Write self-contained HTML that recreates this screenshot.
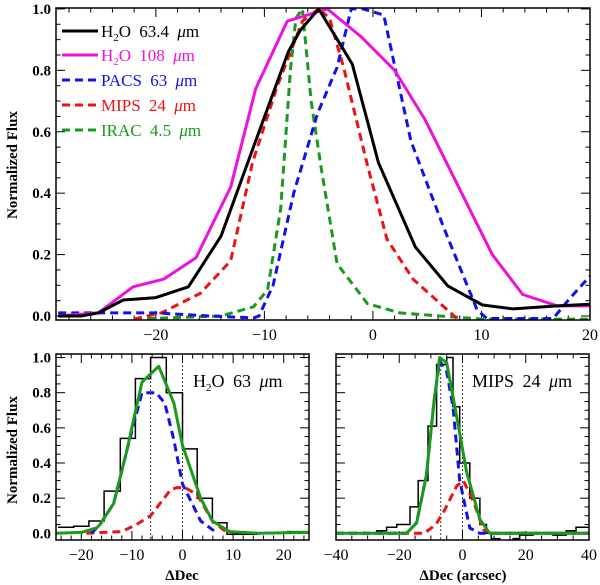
<!DOCTYPE html>
<html><head><meta charset="utf-8"><style>
html,body{margin:0;padding:0;background:#fff;}
svg{display:block;font-family:"Liberation Serif",serif;}
</style></head><body>
<svg id="chart" width="600" height="585" viewBox="0 0 600 585"></svg>
<script>
// ---- Top panel data ----
const h2o63X=[-29,-26.9,-25.3,-23,-20,-17,-14,-10.5,-7.8,-6.7,-5,-1.9,0.5,3.9,6.9,10.1,12.9,17,20];
const h2o63Y=[0,0,0.01,0.052,0.06,0.095,0.26,0.6,0.86,0.93,1.0,0.82,0.5,0.225,0.098,0.036,0.023,0.033,0.038];
const h2o108X=[-29,-25.3,-22.1,-19.3,-16.3,-13.1,-10.8,-7.9,-4.2,-1.1,2.0,4.8,11.0,13.8,17.0,20];
const h2o108Y=[0,0.01,0.095,0.12,0.19,0.42,0.74,0.96,1.0,0.91,0.8,0.64,0.2,0.07,0.033,0.033];
const pacsX=[-29,-20,-15,-11,-10.5,-9.2,-7.3,-5.1,-3.3,-2.0,-0.9,1.0,3.5,6.5,9.6,10.5,16.6,18.2,20];
const pacsY=[0.01,0.01,0.0,-0.006,0,0.1,0.4,0.66,0.81,1.0,1.0,0.98,0.57,0.29,0.02,-0.008,-0.008,0.06,0.13];
const mipsX=[-22,-19.5,-15.9,-13.1,-11.1,-8.8,-6.5,-5,-4,-2.7,-0.5,1.3,3.7,7.8];
const mipsY=[-0.01,0.01,0.074,0.18,0.5,0.75,0.96,1.0,0.97,0.81,0.49,0.25,0.12,-0.01];
const iracX=[-22,-14,-11,-9.7,-8.5,-7.6,-7.1,-6.5,-5.7,-4.8,-3.3,-0.5,2.5,10,20];
const iracY=[-0.01,0.0,0.03,0.085,0.35,0.8,0.97,1.0,0.7,0.49,0.17,0.04,0.01,-0.01,-0.01];
const legendLabels=["H2O 63.4","H2O 108","PACS 63","MIPS 24","IRAC 4.5"];
// ---- Bottom-left (H2O 63) data ----
const blEdges=[-24.6,-21.5,-18.5,-15.5,-12.3,-9.3,-6.3,-3.2,0,2.9,5.9,8.8,11.8,14.8,17.8,20.8,23.8,25];
const blHist=[0.035,0.04,0.07,0.24,0.54,0.88,1.0,0.8,0.48,0.2,0.06,-0.005,-0.005,0.0,0.0,0.01,0.01];
const blFitX=[-25,-20,-17,-16.3,-13.6,-11,-8,-4.7,-1.7,0,3.6,5.9,9.3,15,25];
const blFitY=[0,0.005,0.03,0.05,0.17,0.47,0.86,0.95,0.74,0.5,0.2,0.07,0.01,0,0.005];
const blBlueX=[-18,-16.3,-13.6,-11,-8,-5.2,-3.5,-1.7,0,3.6,6.9];
const blBlueY=[0.0,0.05,0.17,0.47,0.8,0.8,0.74,0.53,0.28,0.07,0.0];
const blRedX=[-19,-12,-9.1,-6.3,-2.3,-1,0.5,2.9,5.9,9];
const blRedY=[0,0.01,0.05,0.1,0.25,0.26,0.26,0.22,0.07,0];
// ---- Bottom-right (MIPS 24) data ----
const brEdges=[-40,-27.1,-24,-20.8,-16.6,-14,-10.9,-8.2,-5,-3,-0.9,2.3,5.5,7.6,9.1,11.8,16,18.1,22.3,28.6,32.8,35.9,40];
const brHist=[0,0.015,0.035,0.05,0.15,0.3,0.61,0.96,1.0,0.72,0.4,0.2,0.05,0,-0.03,-0.045,-0.03,-0.01,0,-0.01,0.015,0.035];
const brFitX=[-40,-17.7,-14.5,-11.4,-9,-7.2,-5,-1.8,1.3,5.5,8.6,40];
const brFitY=[0,0,0.06,0.33,0.75,1.0,0.97,0.66,0.35,0.08,0,0];
const brBlueX=[-40,-17.7,-14.5,-11.4,-9,-7.2,-5,-3,-0.9,2.3,5.5,40];
const brBlueY=[0,0,0.06,0.33,0.75,0.98,0.92,0.72,0.3,0.03,0,0];
const brRedX=[-40,-12.1,-8.4,-6,-1.8,0.3,3.5,6.6,9,40];
const brRedY=[0,0,0.05,0.12,0.27,0.3,0.18,0.02,0,0];

const NS="http://www.w3.org/2000/svg";
const svg=document.getElementById('chart');
function mk(tag,attrs,parent){const e=document.createElementNS(NS,tag);for(const k in attrs)e.setAttribute(k,attrs[k]);(parent||svg).appendChild(e);return e;}
function scale(d0,d1,p0,p1){return v=>p0+(v-d0)*(p1-p0)/(d1-d0);}

function panel(name,box,xd,yd,xMaj,xMin,yMaj,yMin,xfmt,yLabels){
  const g=mk('g',{});
  
  
  const sx=scale(xd[0],xd[1],box.x0,box.x1), sy=scale(yd[0],yd[1],box.y1,box.y0);
  const ticks=mk('g',{stroke:'#000','stroke-width':1},g);
  
  
  const eps=1e-6;
  for(let v=Math.ceil(xd[0]/xMin)*xMin; v<=xd[1]+eps; v+=xMin){
    const maj=Math.abs(v/xMaj-Math.round(v/xMaj))<1e-6, L=maj?9:4.5, x=sx(v);
    mk('line',{x1:x,x2:x,y1:box.y1,y2:box.y1-L},ticks);
    mk('line',{x1:x,x2:x,y1:box.y0,y2:box.y0+L},ticks);
    if(maj){const t=mk('text',{x:x,y:box.y1+20,'text-anchor':'middle','font-size':16,'font-weight':'500'},g);t.textContent=xfmt(Math.round(v));
      }
  }
  for(let v=0; v<=1.0001; v+=yMin){
    const maj=Math.abs(v/yMaj-Math.round(v/yMaj))<1e-6, L=maj?9:4.5, y=sy(v);
    mk('line',{x1:box.x0,x2:box.x0+L,y1:y,y2:y},ticks);
    mk('line',{x1:box.x1,x2:box.x1-L,y1:y,y2:y},ticks);
    if(maj&&yLabels){const t=mk('text',{x:box.x0-5,y:y+5,'text-anchor':'end','font-size':15,'font-weight':'bold'},g);t.textContent=v.toFixed(1);
      }
  }
  const clipId=name+'-clip';
  const cp=mk('clipPath',{id:clipId},g);mk('rect',{x:box.x0,y:box.y0,width:box.x1-box.x0,height:box.y1-box.y0},cp);
  const plot=mk('g',{'clip-path':'url(#'+clipId+')'},g);
  const frame=mk('rect',{x:box.x0,y:box.y0,width:box.x1-box.x0,height:box.y1-box.y0,fill:'none',stroke:'#000','stroke-width':1.5},g);
  
  return {g,plot,sx,sy};
}
function line(p,xs,ys,color,dash,w,nm){
  const d=xs.map((x,i)=>(i?'L':'M')+p.sx(x).toFixed(1)+','+p.sy(ys[i]).toFixed(1)).join('');
  const e=mk('path',{d:d,fill:'none',stroke:color,'stroke-width':w,'stroke-dasharray':dash||'none','stroke-linejoin':'round'},p.plot);
  
  
}
function hist(p,edges,vals,nm){
  let d='';
  vals.forEach((v,i)=>{d+=(i?'L':'M')+p.sx(edges[i]).toFixed(1)+','+p.sy(v).toFixed(1)+'L'+p.sx(edges[i+1]).toFixed(1)+','+p.sy(v).toFixed(1);});
  const e=mk('path',{d:d,fill:'none',stroke:'#000','stroke-width':1.5},p.plot);
  
  
}
function vdot(p,x,nm){
  const e=mk('line',{x1:p.sx(x),x2:p.sx(x),y1:p.sy(-0.1),y2:p.sy(1.1),stroke:'#000','stroke-width':1,'stroke-dasharray':'1.5,2.5'},p.plot);
  
  
}

// Top panel
const topP=panel('top-panel',{x0:56,x1:590,y0:8,y1:320},[-29.2,20],[-0.013,1.003],10,2,0.2,0.05,v=>v===0?'0':(v<0?'\u2212'+(-v):''+v),true);
line(topP,iracX,iracY,'#1a9a1a','8,5',3,'irac-4.5-line');
line(topP,mipsX,mipsY,'#ee1111','8,5',3,'mips-24-line');
line(topP,pacsX,pacsY,'#1111ee','8,5',3,'pacs-63-line');
line(topP,h2o108X,h2o108Y,'#ee11dd',null,3,'h2o-108-line');
line(topP,h2o63X,h2o63Y,'#000',null,3,'h2o-63-line');

// legend
const legColors=['#000','#ee11dd','#1111ee','#ee1111','#1a9a1a'];
const legDash=[null,null,'8,5','8,5','8,5'];
const legY=[31,55,80,105,130];
legendLabels.forEach((lab,i)=>{
  const g=mk('g',{});
  
  
  mk('line',{x1:62,x2:98,y1:legY[i],y2:legY[i],stroke:legColors[i],'stroke-width':3,'stroke-dasharray':legDash[i]||'none'},g);
  const t=mk('text',{x:101,y:legY[i]+6,'font-size':17,fill:legColors[i],'word-spacing':'4'},g);
  if(lab.startsWith('H2O')){
    t.innerHTML='H<tspan font-size="11" dy="4">2</tspan><tspan dy="-4">O '+lab.slice(4)+' </tspan><tspan font-style="italic">μ</tspan>m';
  } else {
    t.innerHTML=lab+' <tspan font-style="italic">μ</tspan>m';
  }
});

// Bottom-left
const bl=panel('bottom-left-panel',{x0:56,x1:309,y0:354,y1:540},[-25,25],[-0.038,1.02],10,2,0.2,0.05,v=>v===0?'0':(v<0?'\u2212'+(-v):''+v),true);
vdot(bl,-6.3,'dotted-line-left');vdot(bl,0,'dotted-line-zero');
hist(bl,blEdges,blHist,'h2o-63-histogram');
line(bl,blRedX,blRedY,'#ee1111','8,5',3,'red-component');
line(bl,blBlueX,blBlueY,'#1111ee','8,5',3,'blue-component');
line(bl,blFitX,blFitY,'#1a9a1a',null,3,'green-fit');
{const t=mk('text',{x:193,y:387,'font-size':18,'word-spacing':'4'});t.innerHTML='H<tspan font-size="11" dy="4">2</tspan><tspan dy="-4">O 63 </tspan><tspan font-style="italic">μ</tspan>m';
}

// Bottom-right
const br=panel('bottom-right-panel',{x0:336,x1:589,y0:354,y1:540},[-40,40],[-0.038,1.02],20,5,0.2,0.05,v=>v===0?'0':(v<0?'\u2212'+(-v):''+v),false);
vdot(br,-6.9,'dotted-line-left');vdot(br,0,'dotted-line-zero');
hist(br,brEdges,brHist,'mips-24-histogram');
line(br,brRedX,brRedY,'#ee1111','8,5',3,'red-component');
line(br,brBlueX,brBlueY,'#1111ee','8,5',3,'blue-component');
line(br,brFitX,brFitY,'#1a9a1a',null,3,'green-fit');
{const t=mk('text',{x:472,y:387,'font-size':18,'word-spacing':'4'});t.innerHTML='MIPS 24 <tspan font-style="italic">μ</tspan>m';
}

// Axis titles
function title(txt,attrs,nm){const t=mk('text',Object.assign({'font-size':15,'font-weight':'bold','text-anchor':'middle'},attrs));t.textContent=txt;
  }
title('Normalized Flux',{x:0,y:0,transform:'translate(17,165) rotate(-90)'},'y-axis-title-top');
title('Normalized Flux',{x:0,y:0,transform:'translate(17,450) rotate(-90)'},'y-axis-title-bottom');
title('\u0394Dec',{x:182,y:580},'x-axis-title-left');
title('\u0394Dec (arcsec)',{x:463,y:580},'x-axis-title-right');
</script>
</body></html>
